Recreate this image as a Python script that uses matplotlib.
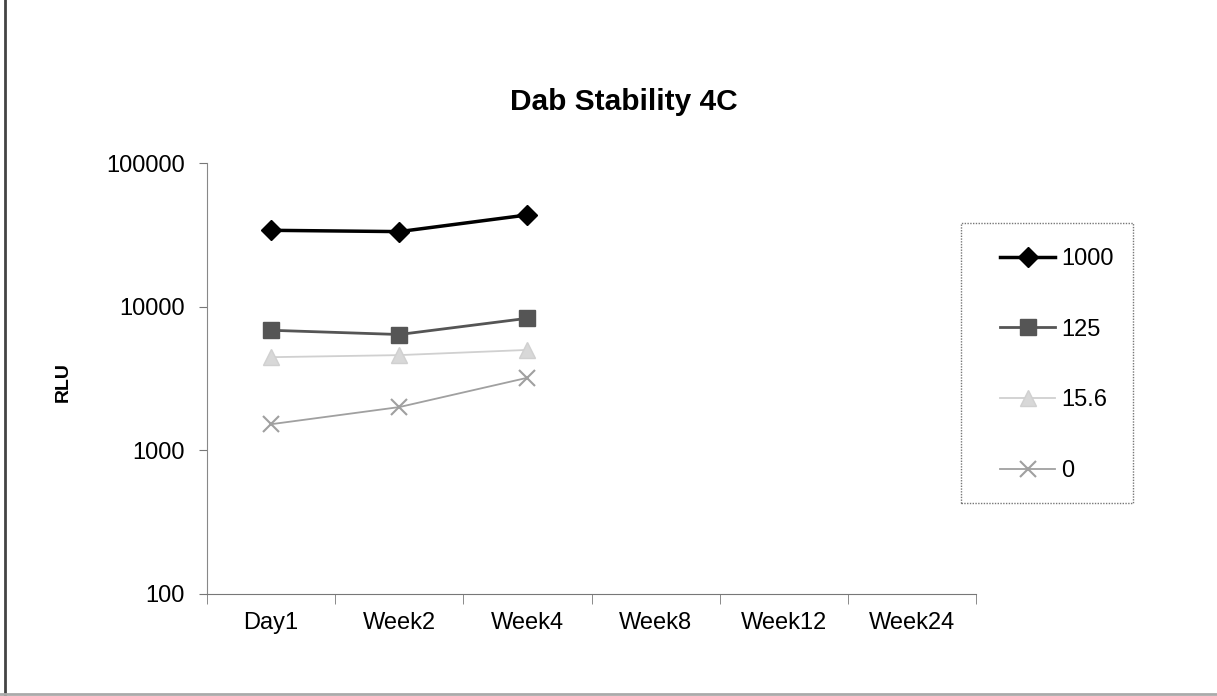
#!/usr/bin/env python
# -*- coding: utf-8 -*-

"""
Dab stability at 4C: RLU readings over time for each concentration.
"""

import matplotlib.pyplot as plt
from matplotlib.lines import Line2D
from matplotlib.patches import Rectangle

plt.rcParams['font.family'] = ['Liberation Sans', 'DejaVu Sans']

timepoints = ["Day1", "Week2", "Week4", "Week8", "Week12", "Week24"]

# measured timepoints only (first three)
rlu_1000 = [34000, 33300, 43500]
rlu_125 = [6850, 6400, 8300]
rlu_15_6 = [4450, 4600, 5000]
rlu_0 = [1520, 2000, 3200]

series_labels = ["1000", "125", "15.6", "0"]

W, H = 1217, 696


def main():
    fig = plt.figure(figsize=(W / 100, H / 100), dpi=100)
    ax = fig.add_axes([207 / W, 1 - 594 / H, 769 / W, 431 / H])

    x = list(range(len(rlu_1000)))

    styles = [
        dict(color="black", lw=2.5, marker="D", ms=10, mfc="black", mec="black"),
        dict(color="#555555", lw=2.0, marker="s", ms=11, mfc="#555555", mec="#555555"),
        dict(color="#d0d0d0", lw=1.3, marker="^", ms=11, mfc="#d8d8d8", mec="#d0d0d0"),
        dict(color="#a0a0a0", lw=1.3, marker="x", ms=11, mew=1.5),
    ]
    for vals, label, st in zip([rlu_1000, rlu_125, rlu_15_6, rlu_0], series_labels, styles):
        ax.plot(x, vals, label=label, **st)

    ax.set_yscale("log")
    ax.set_ylim(100, 100000)
    ax.set_yticks([100, 1000, 10000, 100000])
    ax.set_yticklabels(["100", "1000", "10000", "100000"])
    ax.minorticks_off()

    # category axis: labels centred, tick marks on the boundaries
    ax.set_xlim(-0.5, len(timepoints) - 0.5)
    ax.set_xticks(range(len(timepoints)))
    ax.set_xticklabels(timepoints)
    ax.tick_params(axis="x", which="major", length=0, pad=13, labelsize=17)
    ax.set_xticks([i - 0.5 for i in range(len(timepoints) + 1)], minor=True)
    ax.tick_params(axis="x", which="minor", length=7, color="#777777", direction="out")
    ax.tick_params(axis="y", length=6, color="#777777", labelsize=17, pad=10)

    ax.spines["top"].set_visible(False)
    ax.spines["right"].set_visible(False)
    ax.spines["left"].set_color("#888888")
    ax.spines["bottom"].set_color("#777777")

    fig.text(63 / W, 1 - 382 / H, "RLU", rotation=90, ha="center", va="center",
             fontsize=14, fontweight="bold")
    fig.text(624 / W, 1 - 110 / H, "Dab Stability 4C", ha="center", va="baseline",
             fontsize=21.5, fontweight="bold")

    # legend box drawn separately so the entries can sit inset from its edge
    fig.add_artist(Rectangle((961 / W, 1 - 503 / H), 172 / W, 280 / H,
                             transform=fig.transFigure, fill=False,
                             edgecolor="#777777", lw=1.0, ls=(0, (1, 1))))
    fig.legend(loc="upper left", bbox_to_anchor=(1000 / W, 1 - 248 / H),
               frameon=False, fontsize=17, handlelength=2.33,
               labelspacing=2.06, borderpad=0, handletextpad=0.25,
               borderaxespad=0)

    # outer chart border (left and bottom edges)
    fig.add_artist(Line2D([0.0045, 0.0045], [0.003, 1.0], color="#444444", lw=2.0))
    fig.add_artist(Line2D([0.0, 1.0], [0.003, 0.003], color="#aaaaaa", lw=2.0))

    fig.savefig("out.png", dpi=100)
    plt.close(fig)


if __name__ == "__main__":
    main()
